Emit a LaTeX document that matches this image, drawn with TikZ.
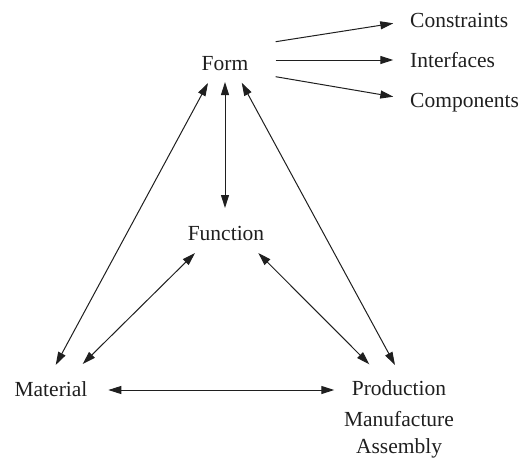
\documentclass[tikz,border=0pt]{standalone}
\usepackage{fontspec}
\setmainfont{Liberation Serif}
\newfontfamily\diagramfont{Liberation Serif}
\usetikzlibrary{arrows.meta}

\tikzset{
  headtip/.tip={Triangle[length=13pt,width=8pt]},
  label text/.style={inner sep=0pt, anchor=base, font=\diagramfont\fontsize{21.5}{24}\selectfont, text=black!88},
  side text/.style={label text, anchor=base west},
  link/.style={line width=1pt, draw=black!88, arrows={headtip-headtip}},
  outlink/.style={line width=1pt, draw=black!88, arrows={-headtip}}
}

\begin{document}
\begin{tikzpicture}[x=1pt,y=-1pt]
  \useasboundingbox (0,0) rectangle (522,459);

  % the four corners of the design triangle
  \node[label text] (form)       at (225,70)  {Form};
  \node[label text] (function)   at (226,240) {Function};
  \node[label text] (material)   at (51,396)  {Material};
  \node[label text] (production) at (399,395) {Production};
  \node[label text] (manufacture) at (399,426) {Manufacture};
  \node[label text] (assembly)   at (399,453) {Assembly};

  % aspects of form
  \node[side text] (constraints) at (410,27)  {Constraints};
  \node[side text] (interfaces)  at (410,67)  {Interfaces};
  \node[side text] (components)  at (410,107) {Components};

  % form branches out to its aspects
  \draw[outlink] ([shift={(50.7,-28.3)}]form.base) -- ([shift={(-16.7,-3.7)}]constraints.base west);
  \draw[outlink] ([shift={(50.7,-10)}]form.base)   -- ([shift={(-16.7,-7)}]interfaces.base west);
  \draw[outlink] ([shift={(50.7,6.7)}]form.base)   -- ([shift={(-16.7,-10.3)}]components.base west);

  % two-way links between the corners
  \draw[link] ([shift={(-17,13)}]form.base)   -- ([shift={(4.7,-31)}]material.base);
  \draw[link] ([shift={(0,12)}]form.base)     -- ([shift={(-1,-32)}]function.base);
  \draw[link] ([shift={(16.7,12.7)}]form.base) -- ([shift={(-4,-30)}]production.base);
  \draw[link] ([shift={(-31,13)}]function.base) -- ([shift={(31.7,-32)}]material.base);
  \draw[link] ([shift={(32.3,13)}]function.base) -- ([shift={(-29.7,-30.7)}]production.base);
  \draw[link] ([shift={(57.3,-6)}]material.base) -- ([shift={(-64.7,-5)}]production.base);
\end{tikzpicture}
\end{document}
